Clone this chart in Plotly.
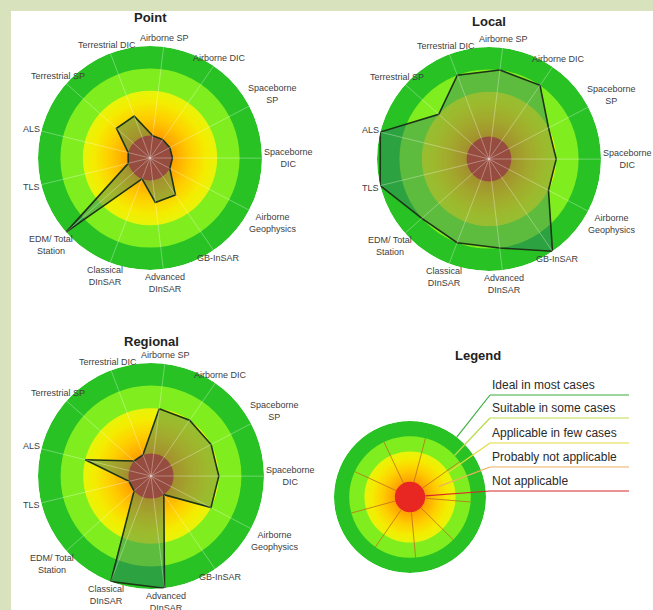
import math
import plotly.graph_objects as go

W, H = 653, 610

# Technique categories, clockwise from the top of each radar
CATEGORIES = [
    "Airborne SP", "Airborne DIC", "Spaceborne<br>SP", "Spaceborne<br>DIC",
    "Airborne<br>Geophysics", "GB-InSAR", "Advanced<br>DInSAR", "Classical<br>DInSAR",
    "EDM/ Total<br>Station", "TLS", "ALS", "Terrestrial SP", "Terrestrial DIC",
]

# Suitability score per technique (1 = not applicable ... 5 = ideal)
POINT = [1, 1, 1, 1, 1, 2, 2, 1, 5, 1, 1, 2, 2]
LOCAL = [4, 4, 3, 3, 3, 5, 4, 4, 4, 5, 5, 3, 4]
REGIONAL = [3, 3, 3, 3, 3, 1, 5, 5, 1, 1, 3, 1, 1]

# Legend levels, from the outer ring inwards
LEVELS = [
    "Ideal in most cases",
    "Suitable in some cases",
    "Applicable in few cases",
    "Probably not applicable",
    "Not applicable",
]
LEVEL_LINE_COLORS = ["#3cae3c", "#b9dc4a", "#e6dc3c", "#f0b060", "#d82828"]

# ring colours (score bands)
RED = (232, 38, 34)
LIME = (128, 238, 30)
DARK_GREEN = (40, 194, 36)
# warm gradient between the red core and the lime ring
WARM_STOPS = [(1.0, (255, 160, 0)), (1.8, (255, 205, 0)), (2.5, (244, 236, 0)), (3.0, (232, 244, 10))]

FONT = "Arial, Liberation Sans, sans-serif"
LABEL_SIZE = 9
N = len(CATEGORIES)
OFFSET = 7.0                       # first category sits a few degrees right of top
THETAS = [i * 360.0 / N for i in range(N)]

# chart geometry in pixels: centre x, centre y, radius
CHARTS = {
    "polar": dict(cx=150, cy=158, R=112, title="Point", ty=18, data=POINT),
    "polar2": dict(cx=489, cy=159, R=112, title="Local", ty=22, data=LOCAL),
    "polar3": dict(cx=151, cy=476, R=113, title="Regional", ty=341, data=REGIONAL),
}
LEGEND = dict(cx=410, cy=497, R=76, title="Legend", tx=478, ty=355)
LEGEND_SPOKES = [7.7 + 40 * k for k in range(9)]


def rgb(c):
    return "rgb(%d,%d,%d)" % c


def lerp(a, b, t):
    return tuple(int(round(a[i] + (b[i] - a[i]) * t)) for i in range(3))


def warm_color(r):
    for (r0, c0), (r1, c1) in zip(WARM_STOPS[:-1], WARM_STOPS[1:]):
        if r0 <= r <= r1:
            return lerp(c0, c1, (r - r0) / (r1 - r0))
    return WARM_STOPS[-1][1]


def ring_trace(subplot):
    # stacked discs drawn from the outside in, so no seams between rings
    radii, cols = [5.0, 4.0], [rgb(DARK_GREEN), rgb(LIME)]
    steps = 20
    for k in range(steps, 0, -1):
        r_out = 1.0 + 2.0 * k / steps
        radii.append(r_out)
        cols.append(rgb(warm_color(r_out - 1.0 / steps)))
    radii.append(1.0)
    cols.append(rgb(RED))
    return go.Barpolar(
        r=radii, theta=[0] * len(radii), width=[360] * len(radii),
        marker=dict(color=cols, line=dict(width=0)), subplot=subplot,
        showlegend=False, hoverinfo="skip",
    )


def px_to_paper(x, y):
    return x / W, 1 - y / H


def category_labels(ch):
    """Category names placed just outside the wheel, box touching the rim."""
    out = []
    gap = 3
    for name, t in zip(CATEGORIES, THETAS):
        a = math.radians(t + OFFSET)
        s, c = math.sin(a), math.cos(a)
        lines = name.split("<br>")
        w = max(len(l) for l in lines) * 4.7
        h = len(lines) * 11
        ext = min(w / 2 / abs(s) if abs(s) > 1e-6 else 1e9, h / 2 / abs(c) if abs(c) > 1e-6 else 1e9)
        d = ch["R"] + gap + ext
        x, y = px_to_paper(ch["cx"] + d * s, ch["cy"] - d * c)
        out.append(dict(x=x, y=y, xref="paper", yref="paper", text=name, showarrow=False,
                        xanchor="center", yanchor="middle", align="center",
                        font=dict(family=FONT, size=LABEL_SIZE, color="#404040")))
    return out


def title(text, x_px, y_px):
    x, y = px_to_paper(x_px, y_px)
    return dict(x=x, y=y, xref="paper", yref="paper", text="<b>%s</b>" % text, showarrow=False,
                xanchor="center", yanchor="middle", font=dict(family=FONT, size=13, color="#222"))


fig = go.Figure()

for name, ch in CHARTS.items():
    fig.add_trace(ring_trace(name))
    vals = ch["data"]
    fig.add_trace(go.Scatterpolar(
        r=vals + [vals[0]], theta=THETAS + [THETAS[0]], mode="lines", fill="toself",
        fillcolor="rgba(50,125,100,0.45)", line=dict(color="rgb(30,52,22)", width=1.6),
        subplot=name, showlegend=False, hoverinfo="skip",
    ))
    sr, st = [], []
    for t in THETAS:
        sr += [0, 5, None]
        st += [t, t, None]
    fig.add_trace(go.Scatterpolar(
        r=sr, theta=st, mode="lines", line=dict(color="rgba(255,255,255,0.32)", width=1),
        subplot=name, showlegend=False, hoverinfo="skip",
    ))

# legend wheel
fig.add_trace(ring_trace("polar4"))
sr, st = [], []
for t in LEGEND_SPOKES:
    sr += [1, 4, None]
    st += [t, t, None]
fig.add_trace(go.Scatterpolar(
    r=sr, theta=st, mode="lines", line=dict(color="rgba(190,110,30,0.8)", width=1),
    subplot="polar4", showlegend=False, hoverinfo="skip",
))


def polar_layout(ch):
    cx, cy, R = ch["cx"], ch["cy"], ch["R"]
    return dict(
        domain=dict(x=[(cx - R) / W, (cx + R) / W], y=[1 - (cy + R) / H, 1 - (cy - R) / H]),
        bgcolor="rgba(0,0,0,0)",
        barmode="overlay",
        radialaxis=dict(range=[0, 5], visible=False),
        angularaxis=dict(
            type="linear", thetaunit="degrees", rotation=90 - OFFSET, direction="clockwise",
            showgrid=False, showline=False, ticks="", showticklabels=False,
        ),
    )


layout = {name: polar_layout(ch) for name, ch in CHARTS.items()}
layout["polar4"] = polar_layout(LEGEND)

annotations = []
for ch in CHARTS.values():
    annotations.append(title(ch["title"], ch["cx"], ch["ty"]))
    annotations += category_labels(ch)
annotations.append(title(LEGEND["title"], LEGEND["tx"], LEGEND["ty"]))

# legend labels with underline and leader line into the matching ring
shapes = [dict(type="rect", xref="paper", yref="paper", x0=11 / W, x1=1, y0=0, y1=1 - 11 / H,
               fillcolor="white", line=dict(width=0), layer="below")]
LABEL_X0, LABEL_X1 = 490, 629
UNDERLINE_Y = [395, 418, 443, 467, 491]
LEADER_ANGLE = [38, 47, 57, 70, 86]
LEADER_R = [5.0, 4.0, 3.0, 2.0, 1.0]
for lvl, col, uy, ang, rr in zip(LEVELS, LEVEL_LINE_COLORS, UNDERLINE_Y, LEADER_ANGLE, LEADER_R):
    ex = LEGEND["cx"] + LEGEND["R"] * rr / 5 * math.sin(math.radians(ang))
    ey = LEGEND["cy"] - LEGEND["R"] * rr / 5 * math.cos(math.radians(ang))
    x0, y0 = px_to_paper(LABEL_X0, uy)
    x1, _ = px_to_paper(LABEL_X1, uy)
    xe, ye = px_to_paper(ex, ey)
    shapes.append(dict(type="line", xref="paper", yref="paper", x0=x0, y0=y0, x1=x1, y1=y0,
                       line=dict(color=col, width=1.2)))
    shapes.append(dict(type="line", xref="paper", yref="paper", x0=x0, y0=y0, x1=xe, y1=ye,
                       line=dict(color=col, width=1.2)))
    annotations.append(dict(x=x0, y=y0, xref="paper", yref="paper", text=lvl, showarrow=False,
                            xanchor="left", yanchor="bottom", yshift=1,
                            font=dict(family=FONT, size=12, color="#2a2a2a")))

fig.update_layout(
    width=W, height=H, margin=dict(l=0, r=0, t=0, b=0),
    paper_bgcolor="rgb(216,226,189)", plot_bgcolor="white",
    annotations=annotations, shapes=shapes, showlegend=False,
    **layout,
)

fig.write_html("out.html")
